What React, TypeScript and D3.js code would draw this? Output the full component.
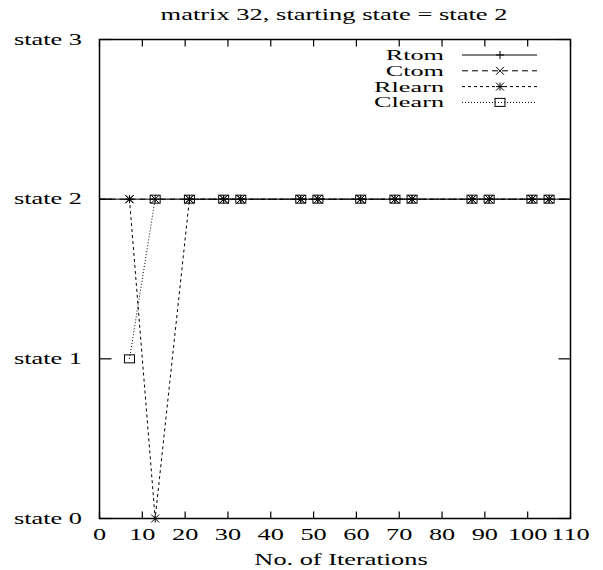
import React, { useEffect, useRef } from "react";
import * as d3 from "d3";

// iterations where points were recorded
const iterations = [7, 13, 21, 29, 33, 47, 51, 61, 69, 73, 87, 91, 101, 105];
const rtom = [2, 2, 2, 2, 2, 2, 2, 2, 2, 2, 2, 2, 2, 2];
const ctom = [2, 2, 2, 2, 2, 2, 2, 2, 2, 2, 2, 2, 2, 2];
const rlearn = [2, 0, 2, 2, 2, 2, 2, 2, 2, 2, 2, 2, 2, 2];
const clearn = [1, 2, 2, 2, 2, 2, 2, 2, 2, 2, 2, 2, 2, 2];
const xTicks = [0, 10, 20, 30, 40, 50, 60, 70, 80, 90, 100, 110];
const yTicks = [0, 1, 2, 3];
const yLabels = ["state 0", "state 1", "state 2", "state 3"];

type Marker = "plus" | "cross" | "star" | "box";

const series: { name: string; values: number[]; dash: string; marker: Marker; extend: boolean }[] = [
  { name: "Rtom", values: rtom, dash: "none", marker: "plus", extend: true },
  { name: "Ctom", values: ctom, dash: "6,4", marker: "cross", extend: true },
  { name: "Rlearn", values: rlearn, dash: "3,3", marker: "star", extend: false },
  { name: "Clearn", values: clearn, dash: "1,2", marker: "box", extend: false },
];

const App = () => {
  const ref = useRef<SVGSVGElement>(null);

  useEffect(() => {
    const svg = d3.select(ref.current);
    svg.selectAll("*").remove();

    const left = 99.5, right = 570.5, top = 39.5, bottom = 518.5;
    const x = d3.scaleLinear().domain([0, 110]).range([left, right]);
    const y = d3.scaleLinear().domain([0, 3]).range([bottom, top]);
    const font = "Liberation Serif, Times New Roman, serif";

    // the original text is stretched horizontally, so scale it in x
    const label = (tx: number, ty: number, str: string, anchor: string, size: number, sx: number) =>
      svg.append("g").attr("transform", `translate(${tx},${ty}) scale(${sx},1)`)
        .append("text").attr("text-anchor", anchor)
        .attr("font-family", font).attr("font-size", size).attr("fill", "black")
        .text(str);

    // border
    svg.append("rect")
      .attr("x", left).attr("y", top)
      .attr("width", right - left).attr("height", bottom - top)
      .attr("fill", "none").attr("stroke", "black").attr("stroke-width", 1.5);

    // x ticks (inward, mirrored at top)
    xTicks.forEach((t) => {
      svg.append("line").attr("x1", x(t)).attr("x2", x(t)).attr("y1", bottom).attr("y2", bottom - 7)
        .attr("stroke", "black").attr("stroke-width", 1.2);
      svg.append("line").attr("x1", x(t)).attr("x2", x(t)).attr("y1", top).attr("y2", top + 7)
        .attr("stroke", "black").attr("stroke-width", 1.2);
      label(x(t), 540, String(t), "middle", 17, 1.55);
    });

    yTicks.forEach((t, i) => {
      svg.append("line").attr("x1", left).attr("x2", left + 12).attr("y1", y(t)).attr("y2", y(t))
        .attr("stroke", "black").attr("stroke-width", 1.2);
      svg.append("line").attr("x1", right).attr("x2", right - 12).attr("y1", y(t)).attr("y2", y(t))
        .attr("stroke", "black").attr("stroke-width", 1.2);
      label(82, y(t) + 5, yLabels[i], "end", 17, 1.55);
    });

    label(334, 20, "matrix 32, starting state = state 2", "middle", 17, 1.56);
    label(341, 565, "No. of Iterations", "middle", 17, 1.55);

    const drawMarker = (g: any, m: Marker, cx: number, cy: number) => {
      const s = 4;
      const ln = (x1: number, y1: number, x2: number, y2: number) =>
        g.append("line").attr("x1", x1).attr("y1", y1).attr("x2", x2).attr("y2", y2)
          .attr("stroke", "black").attr("stroke-width", 1);
      if (m === "plus" || m === "star") {
        ln(cx - s, cy, cx + s, cy);
        ln(cx, cy - s, cx, cy + s);
      }
      if (m === "cross" || m === "star") {
        ln(cx - s, cy - s, cx + s, cy + s);
        ln(cx - s, cy + s, cx + s, cy - s);
      }
      if (m === "box") {
        g.append("rect").attr("x", cx - 5).attr("y", cy - 4).attr("width", 10).attr("height", 8)
          .attr("fill", "none").attr("stroke", "black").attr("stroke-width", 1);
      }
    };

    const line = d3.line<[number, number]>().x((d) => x(d[0])).y((d) => y(d[1]));

    series.forEach((s) => {
      let pts: [number, number][] = iterations.map((it, i) => [it, s.values[i]]);
      if (s.extend) {
        pts = [[0, s.values[0]], ...pts, [110, s.values[s.values.length - 1]]];
      }
      svg.append("path").attr("d", line(pts)).attr("fill", "none")
        .attr("stroke", "black").attr("stroke-width", 1)
        .attr("stroke-dasharray", s.dash);
      const g = svg.append("g");
      iterations.forEach((it, i) => drawMarker(g, s.marker, x(it), y(s.values[i])));
    });

    // legend
    series.forEach((s, i) => {
      const ly = 55 + i * 15.8;
      label(444, ly + 5, s.name, "end", 15, 1.75);
      svg.append("line").attr("x1", 462).attr("x2", 537).attr("y1", ly).attr("y2", ly)
        .attr("stroke", "black").attr("stroke-width", 1).attr("stroke-dasharray", s.dash);
      const g = svg.append("g");
      drawMarker(g, s.marker, 500, ly);
    });
  }, []);

  return (
    <svg ref={ref} width={603} height={570}
      style={{ position: "absolute", left: 0, top: 0, background: "white" }} />
  );
};

export default App;
